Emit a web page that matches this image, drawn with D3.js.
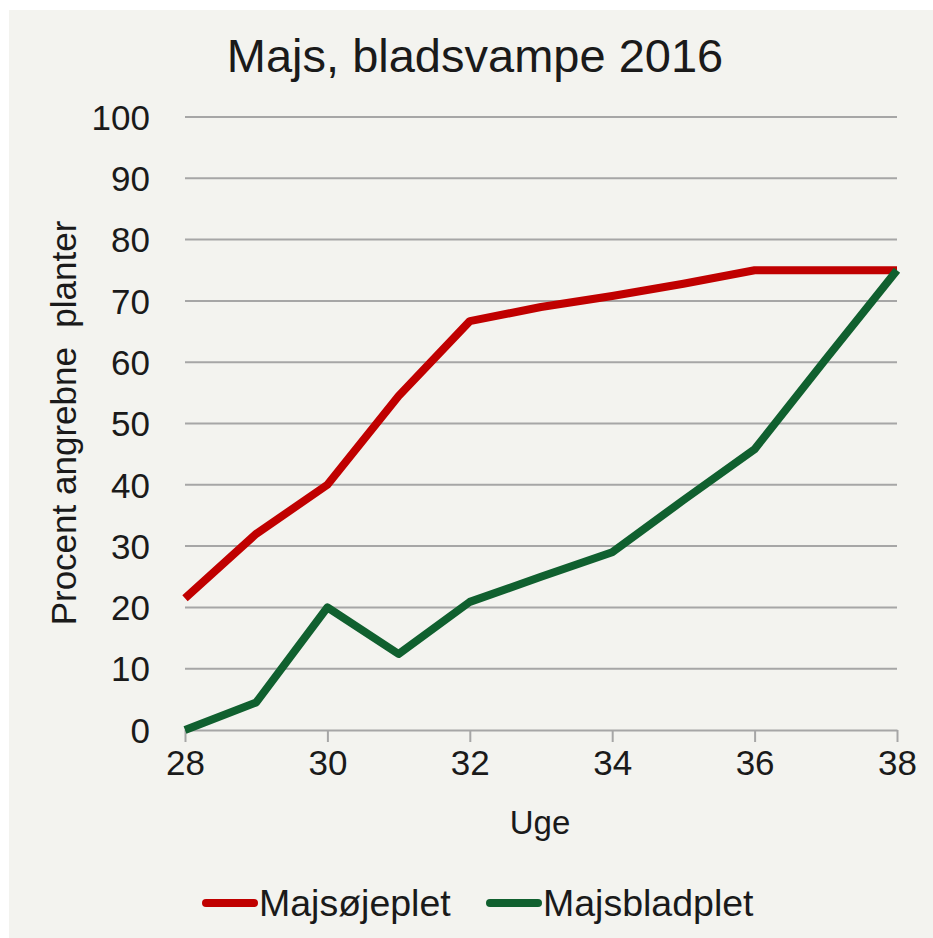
<!DOCTYPE html>
<html>
<head>
<meta charset="utf-8">
<script src="https://cdn.jsdelivr.net/npm/d3@7"></script>
<style>
  body { margin: 0; background: #fff; }
  text { font-family: "Liberation Sans", Arial, sans-serif; fill: #1a1a1a; }
</style>
</head>
<body>
<div id="chart"></div>
<script>
// data
var weeks = [28, 29, 30, 31, 32, 33, 34, 35, 36, 37, 38];
var oejeplet = [21.5, 32, 40, 54.5, 66.7, 69, 70.8, 72.8, 75, 75, 75];
var bladplet = [0, 4.5, 20, 12.4, 20.9, 25, 29, 37.5, 45.8, 60.5, 75];
var xTicks = [28, 30, 32, 34, 36, 38];
var yTicks = [0, 10, 20, 30, 40, 50, 60, 70, 80, 90, 100];
var seriesNames = ["Majsøjeplet", "Majsbladplet"];
var colors = ["#c00000", "#10602f"];

var W = 933, H = 938;
var margin = { top: 117, right: 36, bottom: 208, left: 185 },
    width = W - margin.left - margin.right,
    height = H - margin.top - margin.bottom;

var svg = d3.select("#chart").append("svg")
    .attr("width", W)
    .attr("height", H);

// chart background
svg.append("rect")
    .attr("x", 9).attr("y", 10)
    .attr("width", W - 9).attr("height", H - 10)
    .attr("fill", "#f3f3ef");

svg.append("text")
    .attr("x", 475).attr("y", 72)
    .attr("text-anchor", "middle")
    .style("font-size", "47px")
    .text("Majs, bladsvampe 2016");

var g = svg.append("g")
    .attr("transform", "translate(" + margin.left + "," + margin.top + ")");

var x = d3.scaleLinear().domain([28, 38]).range([0, width]);
var y = d3.scaleLinear().domain([0, 100]).range([height, 0]);

// gridlines
g.selectAll("line.grid")
    .data(yTicks.filter(d => d > 0))
    .enter().append("line")
    .attr("class", "grid")
    .attr("x1", 0).attr("x2", width)
    .attr("y1", d => y(d)).attr("y2", d => y(d))
    .attr("stroke", "#a6a6a6")
    .attr("stroke-width", 2);

// y axis labels
var yAxis = g.append("g")
    .call(d3.axisLeft(y).tickValues(yTicks).tickSize(0).tickPadding(35));
yAxis.select(".domain").remove();
yAxis.selectAll("text")
    .style("font-size", "35px")
    .style("fill", "#1a1a1a")
    .attr("dy", "0.35em");

// x axis
var xAxis = g.append("g")
    .attr("transform", "translate(0," + height + ")")
    .call(d3.axisBottom(x).tickValues(xTicks).tickFormat(d3.format("d")).tickSize(12).tickPadding(8).tickSizeOuter(0));
xAxis.select(".domain").attr("stroke", "#a6a6a6").attr("stroke-width", 2);
xAxis.selectAll(".tick line").attr("stroke", "#a6a6a6").attr("stroke-width", 2);
xAxis.selectAll("text")
    .style("font-size", "35px")
    .style("fill", "#1a1a1a");

// axis titles
svg.append("text")
    .attr("x", 540).attr("y", 834)
    .attr("text-anchor", "middle")
    .style("font-size", "33px")
    .text("Uge");

svg.append("text")
    .attr("transform", "translate(76," + 423 + ") rotate(-90)")
    .attr("text-anchor", "middle")
    .style("font-size", "35px")
    .style("white-space", "pre")
    .text("Procent angrebne  planter");

// lines
var line = d3.line()
    .x((d, i) => x(weeks[i]))
    .y(d => y(d));

[oejeplet, bladplet].forEach(function(s, i) {
    g.append("path")
        .datum(s)
        .attr("fill", "none")
        .attr("stroke", colors[i])
        .attr("stroke-width", 8)
        .attr("stroke-linejoin", "round")
        .attr("d", line);
});

// legend
var legendX = [206, 490];
var legend = svg.selectAll("g.legend")
    .data(seriesNames)
    .enter().append("g")
    .attr("transform", (d, i) => "translate(" + legendX[i] + ",903)");
legend.append("line")
    .attr("x1", 0).attr("x2", 48)
    .attr("stroke", (d, i) => colors[i])
    .attr("stroke-width", 8)
    .attr("stroke-linecap", "round");
legend.append("text")
    .attr("x", 53)
    .attr("dy", "0.35em")
    .style("font-size", "37.5px")
    .text(d => d);
</script>
</body>
</html>
